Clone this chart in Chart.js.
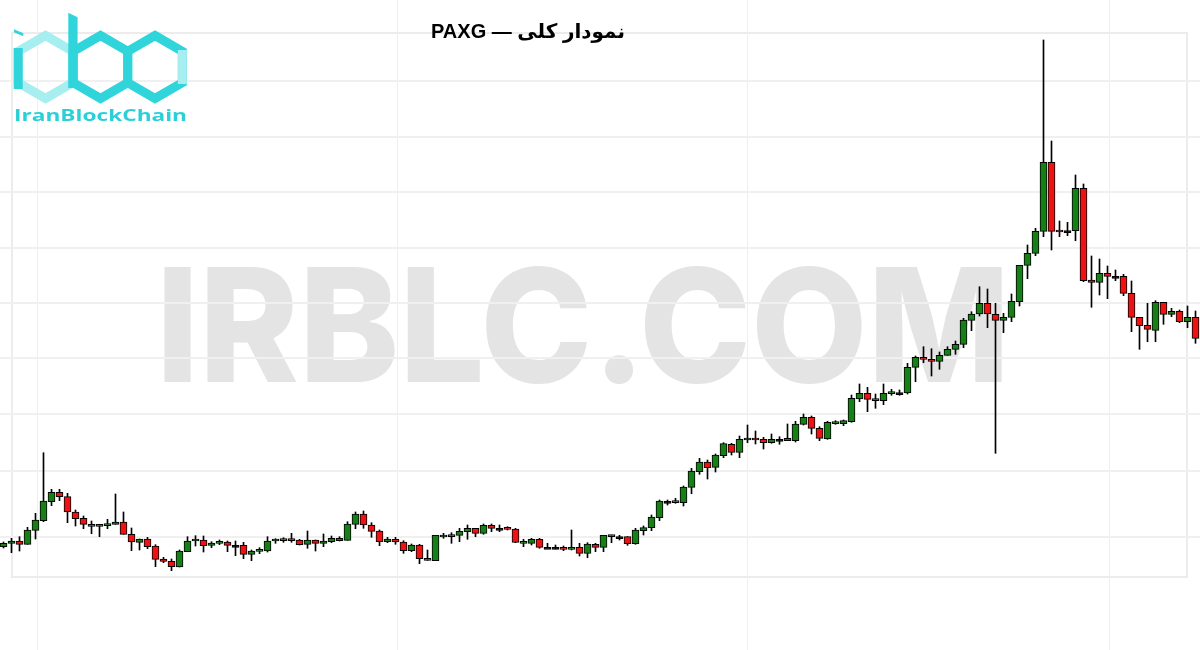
<!DOCTYPE html>
<html lang="fa">
<head>
<meta charset="utf-8">
<title>PAXG</title>
<script src="https://cdn.jsdelivr.net/npm/chart.js@4.4.1/dist/chart.umd.min.js"></script>
<style>
  html, body { margin: 0; padding: 0; background: #ffffff; }
  #wrap { position: relative; width: 1200px; height: 650px; overflow: hidden; background: #ffffff; }
  #frame { position: absolute; left: 11px; top: 32px; width: 1177px; height: 546px; box-sizing: border-box; border: 2px solid #ececec; z-index: 0; }
  #wm { position: absolute; left: 0; top: 0; z-index: 1; }
  #chart { position: absolute; left: 0; top: 0; z-index: 2; }
  #logo { position: absolute; left: 0; top: 0; z-index: 3; }
  #title { position: absolute; left: 0; top: 20px; width: 1056px; text-align: center; z-index: 4;
           font-family: "Liberation Sans", "DejaVu Sans", sans-serif; font-weight: 700; font-size: 20px; line-height: 22px; color: #000; }
</style>
</head>
<body>
<div id="wrap">
  <div id="frame"></div>
  <svg id="wm" width="1200" height="650" xmlns="http://www.w3.org/2000/svg">
    <text x="156" y="382" textLength="854" lengthAdjust="spacingAndGlyphs"
          font-family="Inter, Roboto, sans-serif" font-weight="800" font-size="158" fill="#e4e4e4">IRBLC.COM</text>
  </svg>
  <canvas id="chart" width="1200" height="650"></canvas>
  <svg id="logo" width="200" height="130" xmlns="http://www.w3.org/2000/svg">
    <g fill="none" stroke-width="9" stroke-linejoin="miter">
      <polygon points="45.5,35.5 72.8,51.3 72.8,82.7 45.5,98.5 18.2,82.7 18.2,51.3" stroke="#a6eef0"/>
      <polygon points="155,35.5 182.3,51.3 182.3,82.7 155,98.5 127.7,82.7 127.7,51.3" stroke="#2fd5da"/>
      <line x1="182.3" y1="50" x2="182.3" y2="84" stroke="#a6eef0"/>
      <polygon points="100.5,35.5 127.8,51.3 127.8,82.7 100.5,98.5 73.2,82.7 73.2,51.3" stroke="#2fd5da"/>
      <line x1="18.2" y1="48" x2="18.2" y2="89" stroke="#2fd5da"/>
    </g>
    <polygon points="68.3,12.7 77.6,17.3 77.6,88 68.3,88" fill="#2fd5da"/>
    <polygon points="14,29.3 23.3,33.3 23.3,36.3 14,32.3" fill="#2fd5da"/>
    <text x="14" y="120.7" textLength="173" lengthAdjust="spacingAndGlyphs"
          font-family="'Open Sans', Lato, sans-serif" font-weight="700" font-size="16" fill="#2bd0d7">IranBlockChain</text>
  </svg>
  <div id="title" dir="rtl">نمودار کلی — PAXG</div>
</div>
<script>
// Candle index (one candle per period, left to right)
const periods = [
  1,2,3,4,5,6,7,8,9,10,11,12,13,14,15,16,17,18,19,20,21,22,23,24,25,26,27,28,29,30,
  31,32,33,34,35,36,37,38,39,40,41,42,43,44,45,46,47,48,49,50,51,52,53,54,55,56,57,58,59,60,
  61,62,63,64,65,66,67,68,69,70,71,72,73,74,75,76,77,78,79,80,81,82,83,84,85,86,87,88,89,90,
  91,92,93,94,95,96,97,98,99,100,101,102,103,104,105,106,107,108,109,110,111,112,113,114,115,116,117,118,119,120,
  121,122,123,124,125,126,127,128,129,130,131,132,133,134,135,136,137,138,139,140,141,142,143,144,145,146,147,148,149,150
];

const opens = [
  533, 567, 590, 557, 697, 793, 983, 1077, 1033, 880,
  817, 757, 750, 743, 757, 780, 657, 577, 610, 540,
  410, 387, 330, 483, 590, 600, 547, 567, 580, 547,
  547, 457, 487, 490, 590, 593, 593, 600, 557, 600,
  567, 583, 617, 597, 757, 860, 750, 690, 583, 607,
  580, 493, 550, 417, 393, 630, 633, 647, 683, 717,
  667, 747, 717, 717, 710, 567, 567, 607, 527, 527,
  527, 507, 527, 467, 557, 527, 647, 633, 633, 563,
  693, 723, 823, 987, 973, 973, 1127, 1283, 1380, 1327,
  1443, 1557, 1477, 1600, 1617, 1607, 1573, 1607, 1593, 1593,
  1757, 1827, 1717, 1610, 1763, 1763, 1783, 2010, 2067, 2007,
  1993, 2063, 2073, 2070, 2327, 2427, 2407, 2387, 2447, 2507,
  2557, 2797, 2860, 2967, 2857, 2797, 2827, 2983, 3347, 3467,
  3687, 4377, 3700, 3693, 3693, 4117, 3200, 3177, 3267, 3237,
  3237, 3067, 2827, 2747, 2697, 2977, 2857, 2887, 2783, 2827
];

const highs = [
  580, 617, 633, 727, 867, 1473, 1107, 1107, 1067, 900,
  840, 790, 757, 807, 1060, 880, 720, 610, 627, 553,
  427, 410, 500, 633, 643, 640, 583, 600, 590, 590,
  577, 500, 523, 633, 613, 623, 667, 607, 690, 600,
  660, 640, 633, 783, 880, 890, 773, 700, 627, 627,
  593, 560, 557, 500, 647, 667, 673, 717, 750, 717,
  760, 760, 750, 733, 717, 607, 617, 617, 567, 550,
  540, 700, 567, 573, 567, 647, 647, 647, 633, 717,
  740, 850, 1000, 1000, 1017, 1140, 1317, 1417, 1400, 1460,
  1573, 1567, 1640, 1750, 1690, 1627, 1660, 1633, 1760, 1787,
  1860, 1840, 1733, 1787, 1793, 1800, 2050, 2160, 2127, 2060,
  2160, 2107, 2100, 2367, 2440, 2533, 2513, 2480, 2533, 2590,
  2817, 2883, 3133, 3110, 2967, 2867, 3060, 3347, 3550, 3717,
  5600, 4590, 3790, 3777, 4250, 4160, 3440, 3410, 3340, 3300,
  3257, 3190, 2827, 2967, 2993, 2977, 2917, 2900, 2940, 2890
];

const lows = [
  520, 473, 490, 557, 610, 783, 943, 993, 773, 740,
  713, 663, 633, 713, 757, 657, 493, 500, 513, 333,
  373, 293, 330, 483, 540, 480, 523, 553, 483, 443,
  413, 393, 463, 480, 567, 577, 577, 550, 517, 490,
  533, 573, 590, 597, 713, 717, 627, 543, 573, 557,
  467, 483, 363, 397, 393, 617, 567, 583, 607, 633,
  657, 683, 683, 700, 573, 533, 550, 517, 517, 510,
  493, 500, 440, 423, 483, 483, 573, 600, 547, 557,
  650, 693, 793, 950, 967, 940, 1063, 1257, 1210, 1280,
  1423, 1450, 1423, 1573, 1560, 1510, 1567, 1557, 1593, 1580,
  1750, 1660, 1593, 1607, 1757, 1743, 1777, 1983, 1883, 1917,
  1953, 2047, 2047, 2060, 2183, 2373, 2240, 2307, 2447, 2457,
  2523, 2693, 2840, 2723, 1467, 2673, 2783, 2940, 3213, 3443,
  3633, 3500, 3633, 3643, 3593, 3183, 2927, 3050, 3013, 3193,
  3043, 2683, 2507, 2583, 2583, 2757, 2833, 2773, 2723, 2567
];

const closes = [
  567, 590, 557, 700, 800, 990, 1077, 1033, 880, 813,
  757, 737, 737, 760, 780, 657, 580, 610, 533, 407,
  387, 333, 490, 590, 603, 543, 570, 580, 547, 547,
  457, 490, 500, 590, 600, 607, 607, 553, 600, 567,
  590, 617, 593, 760, 860, 750, 687, 583, 610, 580,
  493, 550, 413, 397, 647, 647, 647, 687, 717, 667,
  747, 717, 717, 707, 577, 580, 607, 527, 527, 527,
  507, 527, 467, 560, 527, 647, 633, 633, 563, 700,
  723, 830, 990, 987, 990, 1130, 1290, 1380, 1323, 1450,
  1563, 1477, 1607, 1617, 1600, 1573, 1607, 1607, 1617, 1760,
  1827, 1717, 1617, 1777, 1783, 1793, 2017, 2067, 2007, 1993,
  2067, 2083, 2073, 2327, 2427, 2407, 2387, 2447, 2507, 2557,
  2800, 2860, 2967, 2860, 2797, 2827, 2987, 3347, 3467, 3687,
  4377, 3687, 3680, 3693, 4117, 3193, 3177, 3267, 3237, 3237,
  3067, 2827, 2743, 2707, 2977, 2857, 2887, 2783, 2827, 2617
];

// faint background grid (value positions)
const priceGrid = [630, 1290, 1860, 2420, 2970, 3520, 4080, 4630, 5190];
const periodGrid = [5.19, 50.31, 94.06, 139.31];

const UP = '#177f17';
const DOWN = '#ee1212';
const bodyColors = closes.map((c, i) => c > opens[i] ? UP : (c < opens[i] ? DOWN : '#000000'));

new Chart(document.getElementById('chart'), {
  type: 'bar',
  data: {
    datasets: [
      {
        label: 'بدنه',
        data: periods.map((p, i) => ({ x: p, y: [opens[i], closes[i]] })),
        backgroundColor: bodyColors,
        borderColor: '#000000',
        borderWidth: 1,
        borderSkipped: false,
        barThickness: 7,
        minBarLength: 2,
        grouped: false,
        order: 0
      },
      {
        label: 'سایه',
        data: periods.map((p, i) => ({ x: p, y: [lows[i], highs[i]] })),
        backgroundColor: '#000000',
        borderWidth: 0,
        barThickness: 1,
        minBarLength: 1,
        grouped: false,
        order: 1
      }
    ]
  },
  options: {
    responsive: false,
    animation: false,
    layout: { padding: 0 },
    plugins: { legend: { display: false }, tooltip: { enabled: false }, title: { display: false } },
    scales: {
      x: {
        type: 'linear',
        offset: false,
        min: 0.5625,
        max: 150.5625,
        ticks: { display: false },
        border: { display: false },
        grid: { offset: false, drawTicks: false, color: '#efefef', lineWidth: 1 },
        afterBuildTicks: (s) => { s.ticks = periodGrid.map(v => ({ value: v })); }
      },
      y: {
        type: 'linear',
        min: -500,
        max: 6000,
        ticks: { display: false },
        border: { display: false },
        grid: { drawTicks: false, color: '#f0f0f0', lineWidth: 2 },
        afterBuildTicks: (s) => { s.ticks = priceGrid.map(v => ({ value: v })); }
      }
    }
  }
});
</script>
</body>
</html>
